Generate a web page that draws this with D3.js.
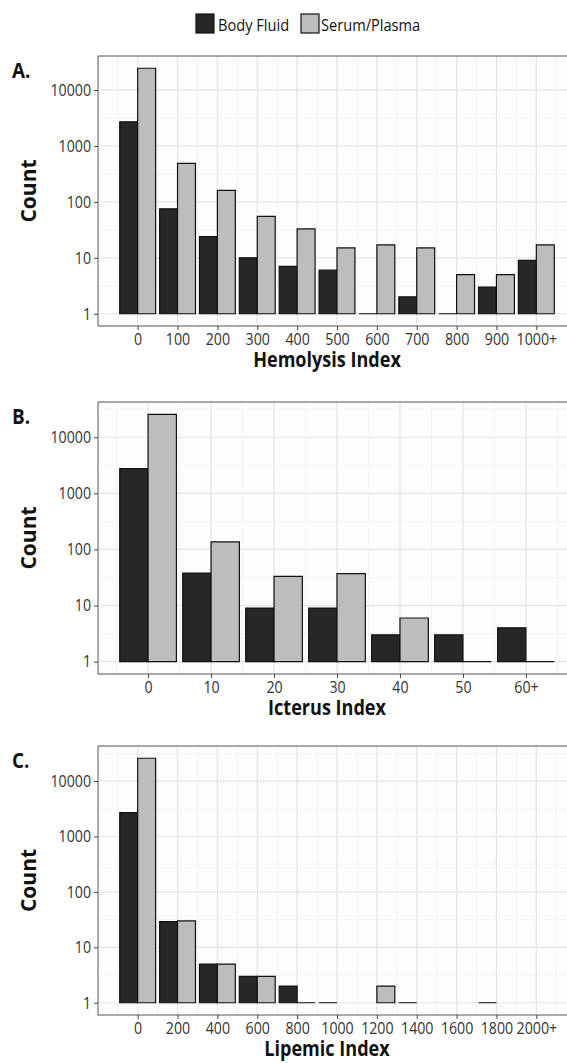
<!doctype html>
<html>
<head>
<meta charset="utf-8"/>
<script src="https://cdnjs.cloudflare.com/ajax/libs/d3/7.8.5/d3.min.js"></script>
<style>
  body { margin: 0; background: #fff; }
  svg { display: block; overflow: hidden; }
  text { font-family: "Open Sans", sans-serif; }
</style>
</head>
<body>
<svg id="chart" width="567" height="1063"></svg>
<script>
// ---- data ----
var series = ["Body Fluid", "Serum/Plasma"];
var fills = ["#272727", "#bdbdbd"];

var hemoLabels = ["0", "100", "200", "300", "400", "500", "600", "700", "800", "900", "1000+"];
var hemoBF = [2700, 75, 24, 10, 7, 6, 1, 2, 1, 3, 9];
var hemoSP = [24500, 490, 160, 55, 33, 15, 17, 15, 5, 5, 17];

var ictLabels = ["0", "10", "20", "30", "40", "50", "60+"];
var ictBF = [2750, 38, 9, 9, 3, 3, 4];
var ictSP = [25600, 136, 33, 37, 6, 1, 1];

var lipLabels = ["0", "200", "400", "600", "800", "1000", "1200", "1400", "1600", "1800", "2000+"];
var lipBF = [2700, 29, 5, 3, 2, 1, 0, 1, 0, 1, 0];
var lipSP = [25800, 30, 5, 3, 1, 0, 2, 0, 0, 0, 0];

var yTicks = [1, 10, 100, 1000, 10000];

var panels = [
  {tag: "A.", title: "Hemolysis Index", labels: hemoLabels, step: 100, bf: hemoBF, sp: hemoSP, top: 56, bottom: 326},
  {tag: "B.", title: "Icterus Index", labels: ictLabels, step: 10, bf: ictBF, sp: ictSP, top: 402, bottom: 674},
  {tag: "C.", title: "Lipemic Index", labels: lipLabels, step: 200, bf: lipBF, sp: lipSP, top: 746, bottom: 1015}
];

var left = 98, right = 576;
var sx = 0.86; // the source figure is squeezed horizontally
var svg = d3.select("#chart");

// squeezed text helper
function stext(g, x, y, str) {
  return g.append("text")
    .attr("transform", "translate(" + x + "," + y + ") scale(" + sx + ",1)")
    .text(str);
}

// legend
var leg = [{x: 196, tx: 218}, {x: 301, tx: 321}];
series.forEach(function (s, i) {
  svg.append("rect")
    .attr("x", leg[i].x).attr("y", 14).attr("width", 18).attr("height", 19)
    .attr("fill", fills[i]).attr("stroke", "#111").attr("stroke-width", 1.2);
  stext(svg, leg[i].tx, 30.5, s).attr("font-size", 17).attr("fill", "#111");
});

panels.forEach(function (p) {
  var n = p.labels.length;
  var vals = p.labels.map(function (d, i) { return i * p.step; });
  var lo = -0.45 * p.step, hi = (n - 1 + 0.45) * p.step;
  var pad = 0.05 * (hi - lo);
  var x = d3.scaleLinear().domain([lo - pad, hi + pad]).range([left, right]);

  var L = Math.log10(d3.max(p.bf.concat(p.sp)));
  var y = d3.scaleLog().domain([Math.pow(10, -0.05 * L), Math.pow(10, 1.05 * L)]).range([p.bottom, p.top]);

  var g = svg.append("g");

  // panel background + grid
  g.append("rect").attr("x", left).attr("y", p.top).attr("width", right - left)
    .attr("height", p.bottom - p.top).attr("fill", "#fdfdfd");

  var minorX = d3.range(-1, n + 1).map(function (i) { return (i + 0.5) * p.step; })
    .filter(function (v) { return x(v) > left && x(v) < right; });
  var minorY = [-0.5, 0.5, 1.5, 2.5, 3.5, 4.5].map(function (e) { return Math.pow(10, e); })
    .filter(function (v) { return y(v) < p.bottom && y(v) > p.top; });

  g.selectAll(".mx").data(minorX).enter().append("line")
    .attr("x1", x).attr("x2", x).attr("y1", p.top).attr("y2", p.bottom)
    .attr("stroke", "#f0f0f0").attr("stroke-width", 0.7);
  g.selectAll(".my").data(minorY).enter().append("line")
    .attr("x1", left).attr("x2", right).attr("y1", y).attr("y2", y)
    .attr("stroke", "#f0f0f0").attr("stroke-width", 0.7);
  g.selectAll(".gx").data(vals).enter().append("line")
    .attr("x1", x).attr("x2", x).attr("y1", p.top).attr("y2", p.bottom)
    .attr("stroke", "#e4e4e4").attr("stroke-width", 1.2);
  g.selectAll(".gy").data(yTicks).enter().append("line")
    .attr("x1", left).attr("x2", right).attr("y1", y).attr("y2", y)
    .attr("stroke", "#e4e4e4").attr("stroke-width", 1.2);

  // bars (a count of 1 gives a flat bar)
  var bars = [];
  vals.forEach(function (v, i) {
    if (p.bf[i] > 0) bars.push({x0: v - 0.45 * p.step, x1: v, c: p.bf[i], k: 0});
    if (p.sp[i] > 0) bars.push({x0: v, x1: v + 0.45 * p.step, c: p.sp[i], k: 1});
  });
  g.selectAll(".bar").data(bars).enter().append("path")
    .attr("d", function (d) {
      return "M" + x(d.x0) + "," + y(1) + "H" + x(d.x1) + "V" + y(d.c) + "H" + x(d.x0) + "Z";
    })
    .attr("fill", function (d) { return fills[d.k]; })
    .attr("stroke", "#111").attr("stroke-width", 1.2);

  // panel border
  g.append("rect").attr("x", left).attr("y", p.top).attr("width", right - left)
    .attr("height", p.bottom - p.top).attr("fill", "none")
    .attr("stroke", "#555").attr("stroke-width", 1);

  // axes
  var ax = g.append("g").attr("transform", "translate(0," + p.bottom + ")")
    .call(d3.axisBottom(x).tickValues(vals).tickFormat(function (d, i) { return p.labels[i]; })
      .tickSize(4).tickPadding(3));
  var ay = g.append("g").attr("transform", "translate(" + left + ",0)")
    .call(d3.axisLeft(y).tickValues(yTicks).tickFormat(d3.format("d")).tickSize(4).tickPadding(3));
  [ax, ay].forEach(function (a) {
    a.select(".domain").remove();
    a.selectAll(".tick line").attr("stroke", "#444");
    a.selectAll(".tick text").attr("font-size", 16.5).attr("font-family", "Open Sans")
      .attr("fill", "#333");
  });
  ax.selectAll(".tick text").attr("transform", "scale(" + sx + ",1)");
  ay.selectAll(".tick text").attr("x", -7 / sx).attr("transform", "scale(" + sx + ",1)");

  // titles
  stext(g, 327, p.bottom + 41, p.title).attr("text-anchor", "middle")
    .attr("font-size", 21).attr("font-weight", "bold").attr("fill", "#111");
  g.append("text")
    .attr("transform", "translate(36," + (p.top + p.bottom) / 2 + ") rotate(-90)")
    .attr("text-anchor", "middle").attr("font-size", 21).attr("font-weight", "bold")
    .attr("fill", "#111").text("Count");
  stext(g, 12, p.top + 22, p.tag).attr("font-size", 22).attr("font-weight", "bold").attr("fill", "#111");
});
</script>
</body>
</html>
